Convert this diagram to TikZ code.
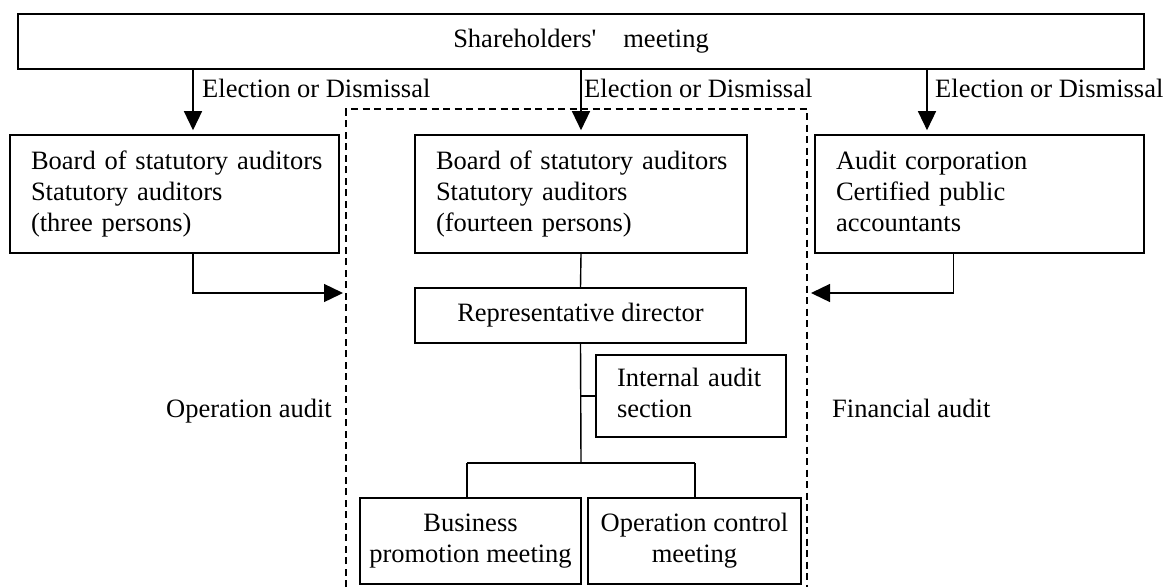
\documentclass[tikz,border=0pt]{standalone}
\usepackage{fontspec}
\setmainfont{Liberation Serif}[Ligatures=TeXOff]
\usetikzlibrary{arrows.meta}
\begin{document}
\begin{tikzpicture}[x=1pt,y=-1pt,
  every node/.style={font=\fontsize{26.5}{31}\selectfont, inner sep=0pt},
  box/.style={draw, line width=1.6pt, inner sep=0pt},
  lbox/.style={box, align=left},
  cbox/.style={box, align=center},
  conn/.style={line width=1.4pt},
  arr/.style={conn, -{Triangle[length=19pt,width=18pt]}},
  frame/.style={line width=1.4pt, dash pattern=on 7pt off 4.5pt},
  lbl/.style={anchor=base west}]
\useasboundingbox (0,0) rectangle (1166,587);

% coordinates
\coordinate (a1) at (193,0);
\coordinate (a2) at (581,0);
\coordinate (a3) at (927,0);
\coordinate (c3) at (953.5,0);
\coordinate (hL) at (346,293);
\coordinate (hR) at (807,293);
\coordinate (dBL) at (346,587);
\coordinate (dTL) at (346,109);
\coordinate (dTR) at (807,109);
\coordinate (dBR) at (807,587);
\coordinate (br) at (581,463);
\coordinate (bL) at (467,463);
\coordinate (bR) at (695,463);

% dashed frame
\draw[frame] (dBL) -- (dTL) -- (dTR) -- (dBR);

% nodes
\node[cbox, minimum width=1126pt, minimum height=55pt] (sh) at (581,41.5)
  {\strut Shareholders'\hspace{27pt}meeting};
\node[lbox, minimum width=329pt, minimum height=118pt, text width=287pt] (lb) at (174.5,194)
  {\strut\mbox{Board of statutory auditors}\\ \mbox{Statutory auditors}\\ \mbox{(three persons)}\strut};
\node[lbox, minimum width=332pt, minimum height=118pt, text width=290pt] (mb) at (581,194)
  {\strut\mbox{Board of statutory auditors}\\ \mbox{Statutory auditors}\\ \mbox{(fourteen persons)}\strut};
\node[lbox, minimum width=329pt, minimum height=118pt, text width=287pt] (rb) at (979.5,194)
  {\strut\mbox{Audit corporation}\\ \mbox{Certified public}\\ \mbox{accountants}\strut};
\node[cbox, minimum width=331pt, minimum height=55pt] (rep) at (580.5,315.5)
  {\strut Representative director};
\node[lbox, minimum width=190pt, minimum height=82pt, text width=148pt] (ias) at (691,396)
  {\strut\mbox{Internal audit}\\ \mbox{section}\strut};
\node[cbox, minimum width=221pt, minimum height=86pt] (bpm) at (470.5,541)
  {\strut Business\\ promotion meeting\strut};
\node[cbox, minimum width=213pt, minimum height=86pt] (ocm) at (694.5,541)
  {\strut Operation control\\ meeting\strut};

% labels
\node[lbl] (e1) at (202,97) {Election or Dismissal};
\node[lbl] (e2) at (584,97) {Election or Dismissal};
\node[lbl] (e3) at (935,97) {Election or Dismissal};
\node[lbl] (oa) at (166,417) {Operation audit};
\node[lbl] (fa) at (832,417) {Financial audit};

% connectors
\draw[arr, shorten >=4pt] (sh.south -| a1) -- (lb.north -| a1);
\draw[arr, shorten >=4pt] (sh.south -| a2) -- (mb.north -| a2);
\draw[arr, shorten >=4pt] (sh.south -| a3) -- (rb.north -| a3);
\draw[arr, shorten >=3pt] (lb.south -| a1) |- (hL);
\draw[arr, shorten >=4pt] (rb.south -| c3) |- (hR);
\draw[conn] (mb.south) -- (rep.north);
\draw[conn] (rep.south) -- (br);
\draw[conn] (rep.south |- ias.west) -- (ias.west);
\draw[conn] (bL) -- (bR);
\draw[conn] (bL) -- (bL |- bpm.north);
\draw[conn] (bR) -- (bR |- ocm.north);
\end{tikzpicture}
\end{document}
